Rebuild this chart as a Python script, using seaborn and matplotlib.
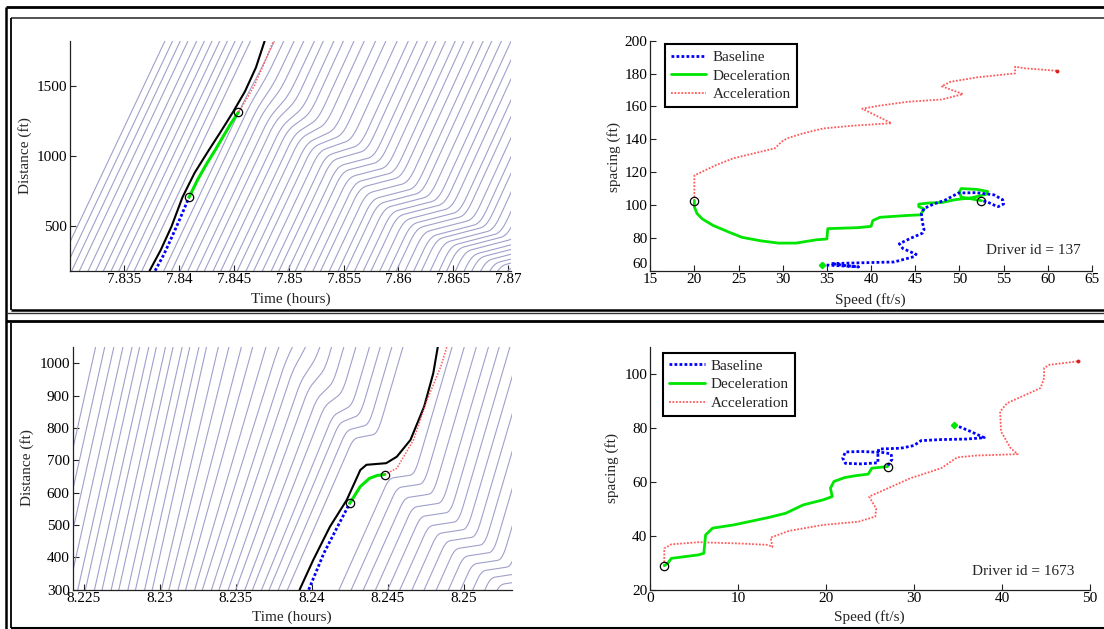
import numpy as np
import pandas as pd
import matplotlib
matplotlib.use("Agg")
import matplotlib.pyplot as plt
from matplotlib.lines import Line2D
import seaborn as sns

sns.set_theme(style="ticks")
plt.rcParams["font.family"] = ["Liberation Serif", "DejaVu Serif"]
plt.rcParams["font.size"] = 11

W, H = 1104, 629

# ===================== upper row : driver 137 =====================
# time-space diagram (time in hours, distance in ft)
A_lead_t = [7.8373, 7.8383, 7.8393, 7.8403, 7.8414, 7.8426, 7.8438, 7.8449, 7.8460, 7.8470, 7.8478]
A_lead_d = [185, 330, 500, 708, 880, 1030, 1175, 1312, 1460, 1630, 1820]
A_base_t = [7.8378, 7.8386, 7.8393, 7.8401, 7.8409]
A_base_d = [185, 300, 420, 560, 708]
A_dec_t = [7.8409, 7.8417, 7.8425, 7.8433, 7.8440, 7.8447, 7.8454]
A_dec_d = [708, 835, 945, 1045, 1138, 1230, 1312]
A_acc_t = [7.8454, 7.8461, 7.8468, 7.8477, 7.8486]
A_acc_d = [1312, 1400, 1493, 1650, 1820]

# surrounding vehicles: time at which each passes the lower edge of the plot
A_bg_t0 = [7.8288, 7.8295, 7.8302, 7.8309, 7.8317, 7.8324, 7.8331, 7.8338, 7.8345, 7.8352,
           7.8359, 7.8366,
           7.8386, 7.8393, 7.8401, 7.8408, 7.8416, 7.8423, 7.8431, 7.8438, 7.8446, 7.8453,
           7.8461, 7.8468, 7.8476, 7.8484, 7.8491, 7.8499, 7.8506, 7.8514, 7.8522, 7.8529,
           7.8537, 7.8545, 7.8552, 7.8560, 7.8568, 7.8575, 7.8583, 7.8591, 7.8598, 7.8606,
           7.8614, 7.8621, 7.8629, 7.8637, 7.8644, 7.8652, 7.8660, 7.8667, 7.8675, 7.8683,
           7.8690, 7.8698]
# time each of them spends in the slow-moving queue (hours)
A_bg_tau = [0, 0, 0, 0, 0, 0, 0, 0, 0, 0,
            0, 0,
            0, 0, 0, 0.0001, 0.0002, 0.0003, 0.0004, 0.0005, 0.0006, 0.0008,
            0.0010, 0.0012, 0.0014, 0.0016, 0.0017, 0.0018, 0.0019, 0.0020, 0.0021, 0.0022,
            0.0023, 0.0024, 0.0025, 0.0026, 0.0027, 0.0028, 0.0028, 0.0029, 0.0029, 0.0030,
            0.0030, 0.0030, 0.0030, 0.0030, 0.0030, 0.0030, 0.0030, 0.0030, 0.0030, 0.0030,
            0.0030, 0.0030]
# speed held while queued (ft/h)
A_bg_vjam = ([165000] * 12
             + [145000, 130000, 115000, 100000, 88000, 76000, 66000, 57000, 49000, 42000,
                36000, 31000, 27000, 24000, 22000]
             + [20000] * 27)
A_bg_speed = [165000] * len(A_bg_t0)
# path of the stop-and-go wave (backward moving)
A_wave_t = [7.8440, 7.8480, 7.8535, 7.8580, 7.8630, 7.8680, 7.8720]
A_wave_d = [1500, 1280, 990, 660, 420, 250, 130]

# speed-spacing plane
A_spd_base = [34.4, 36.5, 38.6, 37.0, 35.5, 38.0, 42.6, 44.9, 45.1, 43.6, 43.2, 44.5, 45.8, 46.0,
              45.8, 45.7, 46.0, 47.1, 48.4, 49.9, 51.9, 53.9, 54.9, 55.0, 54.4, 53.9, 53.1, 52.5]
A_gap_base = [63.6, 63.0, 62.3, 63.2, 64.3, 64.7, 65.3, 68.6, 70.0, 73.5, 76.4, 79.8, 82.8, 85.0,
              89.8, 94.5, 97.9, 100.6, 103.0, 107.3, 107.5, 106.2, 103.2, 100.6, 99.0, 100.0, 102.0, 102.6]
A_spd_dec = [52.5, 51.5, 50.2, 50.0, 50.2, 52.0, 53.2, 53.0, 51.5, 49.5, 48.0, 46.5, 45.4, 45.4,
             46.0, 45.6, 44.0, 41.0, 40.2, 40.0, 38.5, 35.1, 35.0, 33.8, 31.5, 29.5, 27.5, 25.4,
             24.0, 22.1, 20.9, 20.3, 20.0, 20.0]
A_gap_dec = [102.6, 103.6, 104.8, 108.0, 110.0, 109.5, 108.2, 106.5, 104.5, 103.2, 101.5, 101.2,
             100.5, 99.0, 97.5, 94.0, 93.6, 92.5, 90.5, 87.0, 86.2, 85.6, 79.3, 78.8, 76.8, 76.8,
             78.2, 80.3, 83.3, 87.6, 91.5, 94.8, 98.8, 102.6]
A_spd_acc = [20.0, 20.0, 20.9, 22.5, 24.4, 26.8, 29.1, 29.9, 30.5, 32.3, 34.6, 37.8, 42.3, 39.0,
             41.0, 44.1, 48.0, 50.4, 48.0, 49.0, 52.0, 56.3, 56.3, 57.4, 61.0]
A_gap_acc = [102.6, 118.0, 120.3, 124.4, 128.4, 131.5, 134.5, 138.6, 140.6, 143.6, 146.6, 148.2,
             149.8, 158.6, 160.5, 162.8, 164.2, 167.5, 172.3, 175.0, 177.7, 180.1, 184.2, 183.2, 181.7]

A_xticks = [7.835, 7.84, 7.845, 7.85, 7.855, 7.86, 7.865, 7.87]
A_xticklabels = ["7.835", "7.84", "7.845", "7.85", "7.855", "7.86", "7.865", "7.87"]
A_yticks = [500, 1000, 1500]
A_sp_xticks = [15, 20, 25, 30, 35, 40, 45, 50, 55, 60, 65]
A_sp_yticks = [60, 80, 100, 120, 140, 160, 180, 200]
A_driver = "Driver id = 137"

# ===================== lower row : driver 1673 =====================
B_lead_t = [8.2392, 8.2401, 8.2412, 8.2423, 8.2432, 8.2436, 8.2449, 8.2456, 8.2465, 8.2474, 8.2480, 8.2483]
B_lead_d = [300, 392, 495, 577, 670, 686, 691, 711, 763, 866, 969, 1051]
B_base_t = [8.2398, 8.2408, 8.2417, 8.2425]
B_base_d = [300, 413, 495, 567]
B_dec_t = [8.2425, 8.2432, 8.2438, 8.2443, 8.2448]
B_dec_d = [567, 619, 644, 653, 656]
B_acc_t = [8.2448, 8.2456, 8.2467, 8.2476, 8.2485, 8.2489]
B_acc_d = [656, 675, 763, 887, 990, 1051]

B_bg_t0 = [8.2222, 8.2228, 8.2234, 8.2240, 8.2246, 8.2251, 8.2257, 8.2262, 8.2268, 8.2273,
           8.2279, 8.2284, 8.2290, 8.2295, 8.2301, 8.2306, 8.2312, 8.2317, 8.2323, 8.2328,
           8.2334, 8.2339, 8.2345, 8.2350, 8.2356, 8.2361, 8.2367, 8.2372, 8.2378, 8.2384,
           8.2418, 8.2426, 8.2434, 8.2442, 8.2450, 8.2458, 8.2466, 8.2474, 8.2482, 8.2490,
           8.2498, 8.2506, 8.2514, 8.2522, 8.2530]
B_bg_speed = [210000, 210000, 210000, 210000, 210000, 210000, 210000, 210000, 210000, 210000,
              210000, 210000, 210000, 210000, 200000, 190000, 180000, 170000, 160000, 150000,
              145000, 140000, 135000, 130000, 125000, 120000, 115000, 112000, 110000, 108000,
              105000, 105000, 105000, 105000, 105000, 105000, 105000, 105000, 105000, 105000,
              105000, 105000, 105000, 105000, 105000]
B_bg_tau = [0, 0, 0, 0, 0, 0, 0, 0, 0, 0,
            0, 0, 0, 0, 0, 0, 0, 0, 0, 0.0001,
            0.0001, 0.0002, 0.0002, 0.0003, 0.0003, 0.0004, 0.0005, 0.0006, 0.0007, 0.0008,
            0.0009, 0.0010, 0.0011, 0.0012, 0.0012, 0.0012, 0.0012, 0.0012, 0.0012, 0.0012,
            0.0012, 0.0012, 0.0012, 0.0012, 0.0012]
B_bg_vjam = [210000] * 19 + [120000, 100000, 85000, 70000, 55000, 45000, 35000, 25000, 18000, 12000, 9000] + [7000] * 15
B_wave_t = [8.2330, 8.2370, 8.2405, 8.2440, 8.2458, 8.2478, 8.2505, 8.2545]
B_wave_d = [1250, 1060, 880, 700, 600, 490, 380, 240]

B_spd_base = [34.6, 36.3, 38.0, 36.0, 33.0, 30.8, 30.0, 28.5, 26.0, 25.9, 25.9, 24.0, 22.2, 21.9,
              22.2, 24.0, 26.5, 27.4, 27.5, 27.2, 27.0]
B_gap_base = [81.1, 78.8, 76.3, 75.8, 75.6, 75.2, 73.4, 72.4, 72.1, 70.5, 67.0, 66.6, 66.8, 68.7,
              71.0, 71.2, 70.8, 70.3, 68.3, 66.8, 65.6]
B_spd_dec = [27.0, 25.2, 24.8, 23.3, 22.1, 20.9, 20.5, 20.7, 19.7, 17.4, 15.4, 13.4, 9.5, 7.1,
             6.3, 6.1, 5.5, 2.4, 2.0, 1.6]
B_gap_dec = [65.6, 65.0, 62.8, 62.2, 61.5, 60.1, 57.6, 54.5, 53.3, 51.4, 48.3, 46.7, 44.0, 42.8,
             40.3, 33.5, 32.9, 31.6, 29.8, 28.9]
B_spd_acc = [1.6, 1.6, 2.4, 5.5, 10.3, 13.4, 13.9, 13.7, 15.8, 19.7, 23.7, 25.6, 25.7, 24.9, 27.2,
             29.6, 33.1, 34.9, 37.1, 41.8, 41.0, 39.9, 39.8, 40.6, 44.4, 44.8, 44.8, 45.4, 48.7]
B_gap_acc = [28.9, 35.3, 36.8, 37.6, 37.1, 36.6, 35.8, 39.3, 41.8, 44.0, 45.2, 47.1, 50.0, 54.5,
             57.8, 61.3, 65.0, 69.0, 69.7, 70.2, 72.4, 78.6, 86.0, 89.1, 94.7, 98.4, 102.1, 103.3, 104.6]

B_xticks = [8.225, 8.23, 8.235, 8.24, 8.245, 8.25]
B_xticklabels = ["8.225", "8.23", "8.235", "8.24", "8.245", "8.25"]
B_yticks = [300, 400, 500, 600, 700, 800, 900, 1000]
B_sp_xticks = [0, 10, 20, 30, 40, 50]
B_sp_yticks = [20, 40, 60, 80, 100]
B_driver = "Driver id = 1673"

BG_COLOR = "#a0a0cb"
GREEN = "#00e600"
BLUE = "#0000ff"
PINK = "#ff5a5a"


def queue_trajectories(t0s, speeds, taus, vjams, d_ref, wave_t, wave_d, v_after, ramp, t_end, d_top):
    """Trajectories of the surrounding vehicles: free flow, a stay in the
    backward-moving queue, then release."""
    frames = []
    dt = 2.5e-5
    for k, (t0, vf, tau, vj) in enumerate(zip(t0s, speeds, taus, vjams)):
        t = np.arange(t0 - 0.004, t_end, dt)
        v = np.full_like(t, float(vf))
        if vj < vf:
            gap = d_ref + vf * (t - t0) - np.interp(t, wave_t, wave_d)
            if (gap >= 0).any():
                tm = t[np.argmax(gap >= 0)] - 0.5 * ramp
                # smooth (cosine-shaped) slow down and recovery
                s_in = np.clip((t - tm) / ramp, 0, 1)
                s_out = np.clip((t - (tm + ramp + tau)) / ramp, 0, 1)
                w_in = 0.5 - 0.5 * np.cos(np.pi * s_in)
                w_out = 0.5 - 0.5 * np.cos(np.pi * s_out)
                v_rel = v_after if vj < 0.5 * vf else vf
                v = vf + (vj - vf) * w_in + (v_rel - vj) * w_out
        d = d_ref - vf * 0.004 + np.concatenate([[0.0], np.cumsum(0.5 * (v[1:] + v[:-1]) * dt)])
        keep = d <= d_top + 60
        frames.append(pd.DataFrame({"t": t[keep], "d": d[keep], "veh": k}))
    return pd.concat(frames, ignore_index=True)


def style_axis(ax):
    sns.despine(ax=ax)
    for s in ("left", "bottom"):
        ax.spines[s].set_color("#222222")
        ax.spines[s].set_linewidth(0.9)
    ax.tick_params(direction="in", length=4, width=0.8, colors="#222222",
                   labelsize=11, pad=2, top=False, right=False)
    for lab in ax.get_xticklabels() + ax.get_yticklabels():
        lab.set_color("black")


def time_space(ax, bg, lead_t, lead_d, base_t, base_d, dec_t, dec_d, acc_t, acc_d,
               xlim, ylim, xticks, xticklabels, yticks):
    sns.lineplot(data=bg, x="t", y="d", units="veh", estimator=None, sort=False,
                 color=BG_COLOR, linewidth=0.8, ax=ax, legend=False)
    sns.lineplot(x=lead_t, y=lead_d, estimator=None, sort=False, color="black", linewidth=1.5, ax=ax)
    sns.lineplot(x=base_t, y=base_d, estimator=None, sort=False, color=BLUE, linewidth=2.0,
                 linestyle=(0, (1, 0.8)), ax=ax)
    sns.lineplot(x=dec_t, y=dec_d, estimator=None, sort=False, color=GREEN, linewidth=2.2, ax=ax)
    sns.lineplot(x=acc_t, y=acc_d, estimator=None, sort=False, color=PINK, linewidth=1.1,
                 linestyle=(0, (1, 1)), ax=ax)
    ax.plot([dec_t[0], dec_t[-1]], [dec_d[0], dec_d[-1]], "o", mfc="none", mec="black",
            ms=6, mew=0.9)
    ax.set_xlim(*xlim)
    ax.set_ylim(*ylim)
    ax.set_xticks(xticks)
    ax.set_xticklabels(xticklabels)
    ax.set_yticks(yticks)
    ax.set_yticklabels([str(v) for v in yticks])
    ax.set_xlabel("")
    ax.set_ylabel("")
    style_axis(ax)


def speed_spacing(ax, sb, gb, sd, gd, sa, ga, xlim, ylim, xticks, yticks, driver, leg_anchor, txt_pos):
    sns.lineplot(x=sa, y=ga, estimator=None, sort=False, color=PINK, linewidth=1.3,
                 linestyle=(0, (1, 0.9)), ax=ax)
    sns.lineplot(x=sd, y=gd, estimator=None, sort=False, color=GREEN, linewidth=2.0, ax=ax)
    sns.lineplot(x=sb, y=gb, estimator=None, sort=False, color=BLUE, linewidth=2.0,
                 linestyle=(0, (1, 0.8)), ax=ax)
    ax.plot([sb[0]], [gb[0]], "D", color=GREEN, ms=3.2)
    ax.plot([sa[-1]], [ga[-1]], "o", color="#e02020", ms=1.8)
    ax.plot([sd[0], sd[-1]], [gd[0], gd[-1]], "o", mfc="none", mec="black", ms=6, mew=0.9)
    ax.set_xlim(*xlim)
    ax.set_ylim(*ylim)
    ax.set_xticks(xticks)
    ax.set_xticklabels([str(v) for v in xticks])
    ax.set_yticks(yticks)
    ax.set_yticklabels([str(v) for v in yticks])
    ax.set_xlabel("")
    ax.set_ylabel("")
    style_axis(ax)
    handles = [Line2D([], [], color=BLUE, lw=2.0, ls=(0, (1, 0.8))),
               Line2D([], [], color=GREEN, lw=2.0),
               Line2D([], [], color=PINK, lw=1.3, ls=(0, (1, 0.9)))]
    leg = ax.legend(handles, ["Baseline", "Deceleration", "Acceleration"], loc="upper left",
                    bbox_to_anchor=leg_anchor, frameon=True, fancybox=False, framealpha=1,
                    edgecolor="black", borderpad=0.4, labelspacing=0.32, handlelength=2.3,
                    handletextpad=0.4, borderaxespad=0, fontsize=11)
    leg.get_frame().set_linewidth(1.5)
    ax.text(txt_pos[0], txt_pos[1], driver, transform=ax.transAxes, ha="right", va="center",
            fontsize=11)


def fpos(left, top, right, bottom):
    return [left / W, 1 - bottom / H, (right - left) / W, (bottom - top) / H]


fig = plt.figure(figsize=(W / 100, H / 100), dpi=100)
fig.patch.set_facecolor("white")

axA1 = fig.add_axes(fpos(69.6, 40.7, 511.4, 270.7))
axA2 = fig.add_axes(fpos(650.2, 40.7, 1091.9, 270.7))
axB1 = fig.add_axes(fpos(72.5, 346.7, 511.8, 589.7))
axB2 = fig.add_axes(fpos(650.2, 346.7, 1089.8, 589.7))

bgA = queue_trajectories(A_bg_t0, A_bg_speed, A_bg_tau, A_bg_vjam, 185, A_wave_t, A_wave_d,
                         170000, 0.0016, 7.8710, 1820)
bgB = queue_trajectories(B_bg_t0, B_bg_speed, B_bg_tau, B_bg_vjam, 300, B_wave_t, B_wave_d,
                         160000, 0.0008, 8.2540, 1051)

time_space(axA1, bgA, A_lead_t, A_lead_d, A_base_t, A_base_d, A_dec_t, A_dec_d, A_acc_t, A_acc_d,
           (7.8300, 7.8703), (185, 1820), A_xticks, A_xticklabels, A_yticks)
time_space(axB1, bgB, B_lead_t, B_lead_d, B_base_t, B_base_d, B_dec_t, B_dec_d, B_acc_t, B_acc_d,
           (8.22425, 8.25317), (300, 1051), B_xticks, B_xticklabels, B_yticks)

speed_spacing(axA2, A_spd_base, A_gap_base, A_spd_dec, A_gap_dec, A_spd_acc, A_gap_acc,
              (15, 65), (60, 200), A_sp_xticks, A_sp_yticks, A_driver, (0.034, 0.984), (0.975, 0.087))
speed_spacing(axB2, B_spd_base, B_gap_base, B_spd_dec, B_gap_dec, B_spd_acc, B_gap_acc,
              (0, 50), (20, 110), B_sp_xticks, B_sp_yticks, B_driver, (0.030, 0.974), (0.966, 0.074))

# the lowest spacing label sits right in the corner; lift it a touch
for lab in axA2.get_yticklabels():
    if lab.get_text() == "60":
        lab.set_va("bottom")

# axis titles
def ftext(x, y, s, rot=0):
    fig.text(x / W, 1 - y / H, s, ha="center", va="center", rotation=rot, fontsize=11)

ftext(290.5, 299, "Time (hours)")
ftext(870, 300, "Speed (ft/s)")
ftext(25, 156, "Distance (ft)", 90)
ftext(613.8, 157, "spacing (ft)", 90)
ftext(292, 617.5, "Time (hours)")
ftext(869, 617, "Speed (ft/s)")
ftext(26.8, 468, "Distance (ft)", 90)
ftext(612, 468, "spacing (ft)", 90)

# panel frames
def fline(x1, y1, x2, y2, color="black", lw=1.5):
    fig.add_artist(Line2D([x1 / W, x2 / W], [1 - y1 / H, 1 - y2 / H], transform=fig.transFigure,
                          color=color, lw=lw, solid_capstyle="butt"))

fline(6, 7.3, 1104, 7.3, lw=2.0)
fline(6.4, 7, 6.4, 629, lw=1.8)
fline(10.7, 18.3, 1104, 18.3, color="#444444", lw=1.3)
fline(10.7, 18.3, 10.7, 309.5, lw=1.3)
fline(10.7, 309.5, 1104, 309.5, lw=1.8)
fline(6.4, 313.3, 1104, 313.3, color="#333333", lw=1.0)
fline(6.4, 320.8, 1104, 320.8, lw=2.0)
fline(10.7, 322.5, 10.7, 627.5, lw=1.3)
fline(10.7, 627.5, 1104, 627.5, lw=1.5)

fig.savefig("out.png", dpi=100, facecolor="white")
